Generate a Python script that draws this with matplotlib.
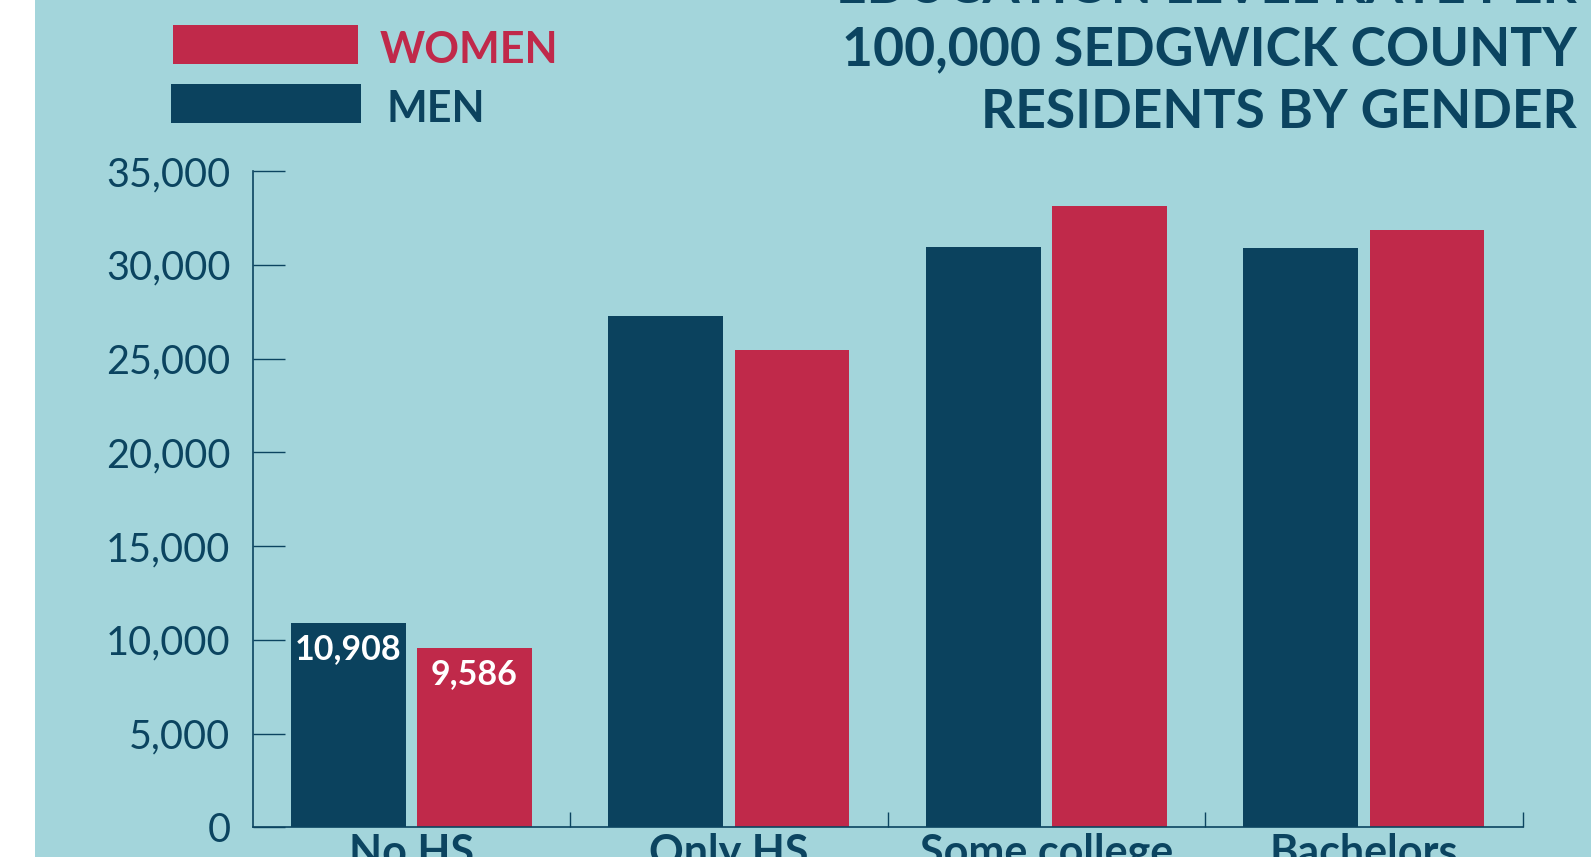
#!/usr/bin/env python3
"""Education level rate per 100,000 Sedgwick County residents, by gender."""
import matplotlib
matplotlib.use("Agg")
import matplotlib.pyplot as plt
from matplotlib.patches import Rectangle
import numpy as np

W, H = 1591, 857
BG = "#A3D5DB"
NAVY = "#0B425E"
RED = "#C0294A"
INK = "#0B4460"

categories = ["No HS", "Only HS", "Some college", "Bachelors"]
men = [10908, 27270, 30950, 30900]
women = [9586, 25460, 33140, 31860]
yticks = [0, 5000, 10000, 15000, 20000, 25000, 30000, 35000]
title_lines = ["EDUCATION LEVEL RATE PER", "100,000 SEDGWICK COUNTY", "RESIDENTS BY GENDER"]
legend_labels = ["WOMEN", "MEN"]

plt.rcParams["font.family"] = ["Lato", "DejaVu Sans"]


def fx(x):
    return x / W


def fy(y):
    return 1 - y / H


fig = plt.figure(figsize=(W / 100, H / 100), dpi=100, facecolor="white")
# teal panel, white strip on the left
fig.patches.append(Rectangle((fx(35), 0), 1, 1, transform=fig.transFigure,
                             facecolor=BG, edgecolor="none", zorder=-5))

ax = fig.add_axes([fx(252.7), fy(827.3), fx(1522.7) - fx(252.7), fy(171) - fy(827.3)])
ax.set_zorder(2)
ax.patch.set_alpha(0)

x = np.arange(len(categories))
bw = 0.3616
off = (bw + 0.0356) / 2
ax.bar(x - off, men, width=bw, color=NAVY, zorder=2)
ax.bar(x + off, women, width=bw, color=RED, zorder=2)

# value labels on first group only
for xv, val in [(x[0] - off, men[0]), (x[0] + off, women[0])]:
    ax.annotate(f"{val:,}", (xv, val), xytext=(0, -26), textcoords="offset points",
                ha="center", va="baseline", color="white", fontsize=24.5,
                fontweight="bold", zorder=3)

ax.set_xlim(-0.5, 3.5)
ax.set_ylim(0, 35000)
for s in ["top", "right"]:
    ax.spines[s].set_visible(False)
for s in ["left", "bottom"]:
    ax.spines[s].set_color(INK)
    ax.spines[s].set_linewidth(1.2)

ax.set_yticks(yticks)
ax.set_yticklabels([f"{v:,}" for v in yticks])
ax.tick_params(axis="y", direction="in", length=23, width=1.0, color=INK,
               pad=16, labelsize=28.5, labelcolor=INK)

ax.set_xticks(x)
ax.set_xticklabels(categories, fontweight="bold")
ax.set_xticks(np.arange(len(categories)) + 0.5, minor=True)
ax.tick_params(axis="x", which="major", length=0, pad=4, labelsize=31, labelcolor=INK)
ax.tick_params(axis="x", which="minor", direction="in", length=11, width=1.0, color=INK)

# legend
for (y0, y1, x0, x1), col, lab, tx, by in [
    ((25, 64, 173, 358), RED, legend_labels[0], 380, 63),
    ((84, 123, 171, 361), NAVY, legend_labels[1], 386, 122),
]:
    fig.patches.append(Rectangle((fx(x0), fy(y1)), fx(x1) - fx(x0), fy(y0) - fy(y1),
                                 transform=fig.transFigure, facecolor=col,
                                 edgecolor="none", zorder=1))
    fig.text(fx(tx), fy(by), lab, color=col, fontsize=31, fontweight="bold",
             ha="left", va="baseline")

# title, right aligned, first line cut off by the top edge
for line, by in zip(title_lines, [3, 65, 128]):
    fig.text(fx(1577), fy(by), line, color=INK, fontsize=38.5, fontweight="bold",
             ha="right", va="baseline")

fig.savefig("out.png", dpi=100, facecolor=fig.get_facecolor())
